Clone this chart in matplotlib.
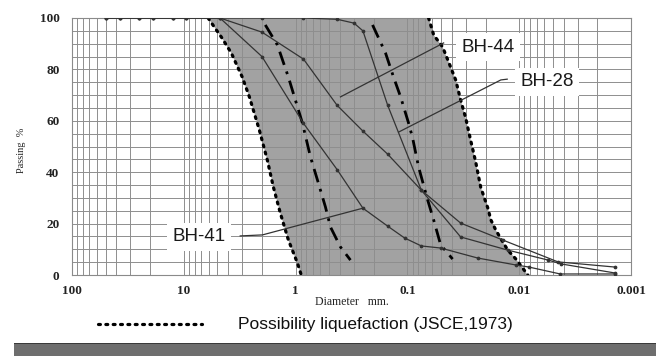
import numpy as np
import matplotlib
matplotlib.use("Agg")
import matplotlib.pyplot as plt
from matplotlib.ticker import FixedLocator, MultipleLocator, NullFormatter
from matplotlib.patches import Rectangle

# ---------------- data ----------------
coarse_d = [50, 37.5, 25, 19, 12.5, 9.5]
coarse_p = [100, 100, 100, 100, 100, 100]

bh41_d = [4.75, 2.0, 0.85, 0.425, 0.25, 0.15, 0.106, 0.075, 0.0505, 0.0235, 0.0107, 0.0082, 0.0043, 0.0014]
bh41_p = [100, 85, 59, 41, 26, 19, 14.4, 11.3, 10.5, 6.6, 3.9, 3.1, 0.4, 0.4]

bh44_d = [4.75, 2.0, 0.85, 0.425, 0.25, 0.15, 0.075, 0.0334, 0.0127, 0.0055, 0.0042, 0.0014]
bh44_p = [100, 94.5, 84, 66, 56, 47, 33, 14.8, 9.7, 5.8, 4.3, 0.8]

bh28_d = [4.75, 2.0, 0.85, 0.425, 0.30, 0.25, 0.15, 0.075, 0.0334, 0.014, 0.0045, 0.0014]
bh28_p = [100, 100, 100, 99.5, 98, 95, 66, 33, 20.2, 13.6, 5.1, 3.1]

# outer boundary (possibility of liquefaction, dotted)
outer_left_d = [6.06, 5.34, 4.62, 3.76, 3.00, 2.59, 2.11, 1.79, 1.58, 1.37, 1.16, 0.964, 0.89]
outer_left_p = [100, 96.5, 92.6, 86.4, 77, 69.3, 56.4, 44.7, 34.2, 24.1, 13.6, 4.7, 0]
outer_right_d = [0.0646, 0.0582, 0.0484, 0.0428, 0.0370, 0.0334, 0.0301, 0.0272, 0.0245,
                 0.0221, 0.0191, 0.0179, 0.0162, 0.0140, 0.01265, 0.0107, 0.00837]
outer_right_p = [100, 93.4, 88.7, 82.9, 75.9, 68.1, 61.1, 52.5, 44, 34.2, 26.1, 21.4, 17.5,
                 12.8, 9.7, 6.2, 0]

# inner boundary (dash-dot)
inner_left_d = [1.866, 1.455, 1.16, 0.869, 0.736, 0.638, 0.541, 0.488, 0.397, 0.323]
inner_left_p = [97.3, 89.5, 77, 59.1, 45.9, 37, 26.5, 18.7, 10.9, 5.8]
inner_right_d = [0.205, 0.157, 0.133, 0.115, 0.0976, 0.0898, 0.0794, 0.0659, 0.0582, 0.0504, 0.0394]
inner_right_p = [97.3, 86.4, 77, 69.3, 59.1, 53.3, 42, 29.2, 21.4, 11.7, 6.2]

# labels: (text, text pos, leader polyline)
labels = ["BH-44", "BH-28", "BH-41"]
label_xy = [(0.0191, 88.7), (0.00566, 75.1), (7.3, 14.8)]
leader_d = [[0.397, 0.0474], [0.12, 0.0146, 0.0128], [0.25, 1.98, 3.13]]
leader_p = [[69.3, 90.3], [55.6, 75.9, 76.2], [26, 15.6, 15.2]]

x_ticks = [100, 10, 1, 0.1, 0.01, 0.001]
x_ticklabels = ["100", "10", "1", "0.1", "0.01", "0.001"]
y_ticks = [0, 20, 40, 60, 80, 100]

# ---------------- figure ----------------
fig = plt.figure(figsize=(6.56, 3.56), dpi=100)
ax = fig.add_axes([72/656, 1-275/356, (631-72)/656, (275-18)/356])
ax.set_xscale("log")
ax.set_xlim(100, 0.001)
ax.set_ylim(0, 100)

# shaded liquefaction zone
poly_d = list(outer_left_d) + list(outer_right_d[::-1])
poly_p = list(outer_left_p) + list(outer_right_p[::-1])
ax.fill(poly_d, poly_p, color="#a2a2a2", lw=0, zorder=1)

# grid
minors = []
for dec in [0.001, 0.01, 0.1, 1, 10]:
    for m in range(2, 10):
        minors.append(dec * m)
ax.xaxis.set_major_locator(FixedLocator(x_ticks))
ax.xaxis.set_minor_locator(FixedLocator(minors))
ax.xaxis.set_minor_formatter(NullFormatter())
ax.set_xticklabels(x_ticklabels)
ax.yaxis.set_major_locator(FixedLocator(y_ticks))
ax.yaxis.set_minor_locator(MultipleLocator(5))
ax.grid(True, which="both", color="#8e8e8e", lw=0.7, zorder=1.5)
ax.tick_params(which="both", length=0)
ax.tick_params(axis="x", pad=7)
ax.tick_params(axis="y", pad=9)
for lab in ax.get_xticklabels() + ax.get_yticklabels():
    lab.set_fontfamily("Liberation Serif")
    lab.set_fontweight("bold")
    lab.set_fontsize(9.5)
    lab.set_color("#222222")
for s in ax.spines.values():
    s.set_color("#8a8a8a")
    s.set_linewidth(0.8)

# boundaries
dot_style = (0, (0.6, 1.7))
ax.plot(outer_left_d, outer_left_p, color="black", lw=2.3, ls=dot_style,
        dash_capstyle="round", zorder=3)
ax.plot(outer_right_d, outer_right_p, color="black", lw=2.3, ls=dot_style,
        dash_capstyle="round", zorder=3)
ax.plot(inner_left_d, inner_left_p, color="black", lw=2.0, ls=(0, (5, 2.5, 1, 2.5)), zorder=3)
ax.plot(inner_right_d, inner_right_p, color="black", lw=2.0, ls=(0, (5, 2.5, 1, 2.5)), zorder=3)

# grading curves
for d, p in [(bh41_d, bh41_p), (bh44_d, bh44_p), (bh28_d, bh28_p)]:
    ax.plot(coarse_d + d, coarse_p + p, color="#333333", lw=0.9, marker="o", ms=1.7, zorder=4)

# labels and leaders
for txt, (tx, ty), ld, lp in zip(labels, label_xy, leader_d, leader_p):
    ax.plot(ld, lp, color="#333333", lw=0.9, zorder=5)
    ax.text(tx, ty, txt, ha="center", va="center", fontsize=13.5,
            fontfamily="Liberation Sans", color="#1a1a1a", zorder=6,
            bbox=dict(facecolor="white", edgecolor="none", pad=4))

# axis titles
fig.text(22/656, 1-150/356, "Passing  %", rotation=90, ha="center", va="center",
         fontsize=7.5, fontfamily="Liberation Serif", color="#222222")
fig.text(352/656, 1-302/356, "Diameter   mm.", ha="center", va="center",
         fontsize=8.5, fontfamily="Liberation Serif", color="#222222")

# legend line below
fig.lines.append(plt.Line2D([98/656, 202/656], [1-324/356, 1-324/356], transform=fig.transFigure,
                            color="black", lw=2.3, ls=dot_style, dash_capstyle="round"))
fig.text(238/656, 1-325/356, "Possibility liquefaction (JSCE,1973)", ha="left", va="center",
         fontsize=12.5, fontfamily="Liberation Sans", color="#111111")

# dark band at the bottom
fig.patches.append(Rectangle((14/656, 0), 1, 13/356, transform=fig.transFigure,
                             facecolor="#6e6e6e", edgecolor="none"))
fig.patches.append(Rectangle((14/656, 12/356), 1, 1.5/356, transform=fig.transFigure,
                             facecolor="#3a3a3a", edgecolor="none"))

fig.savefig("out.png", dpi=100)
